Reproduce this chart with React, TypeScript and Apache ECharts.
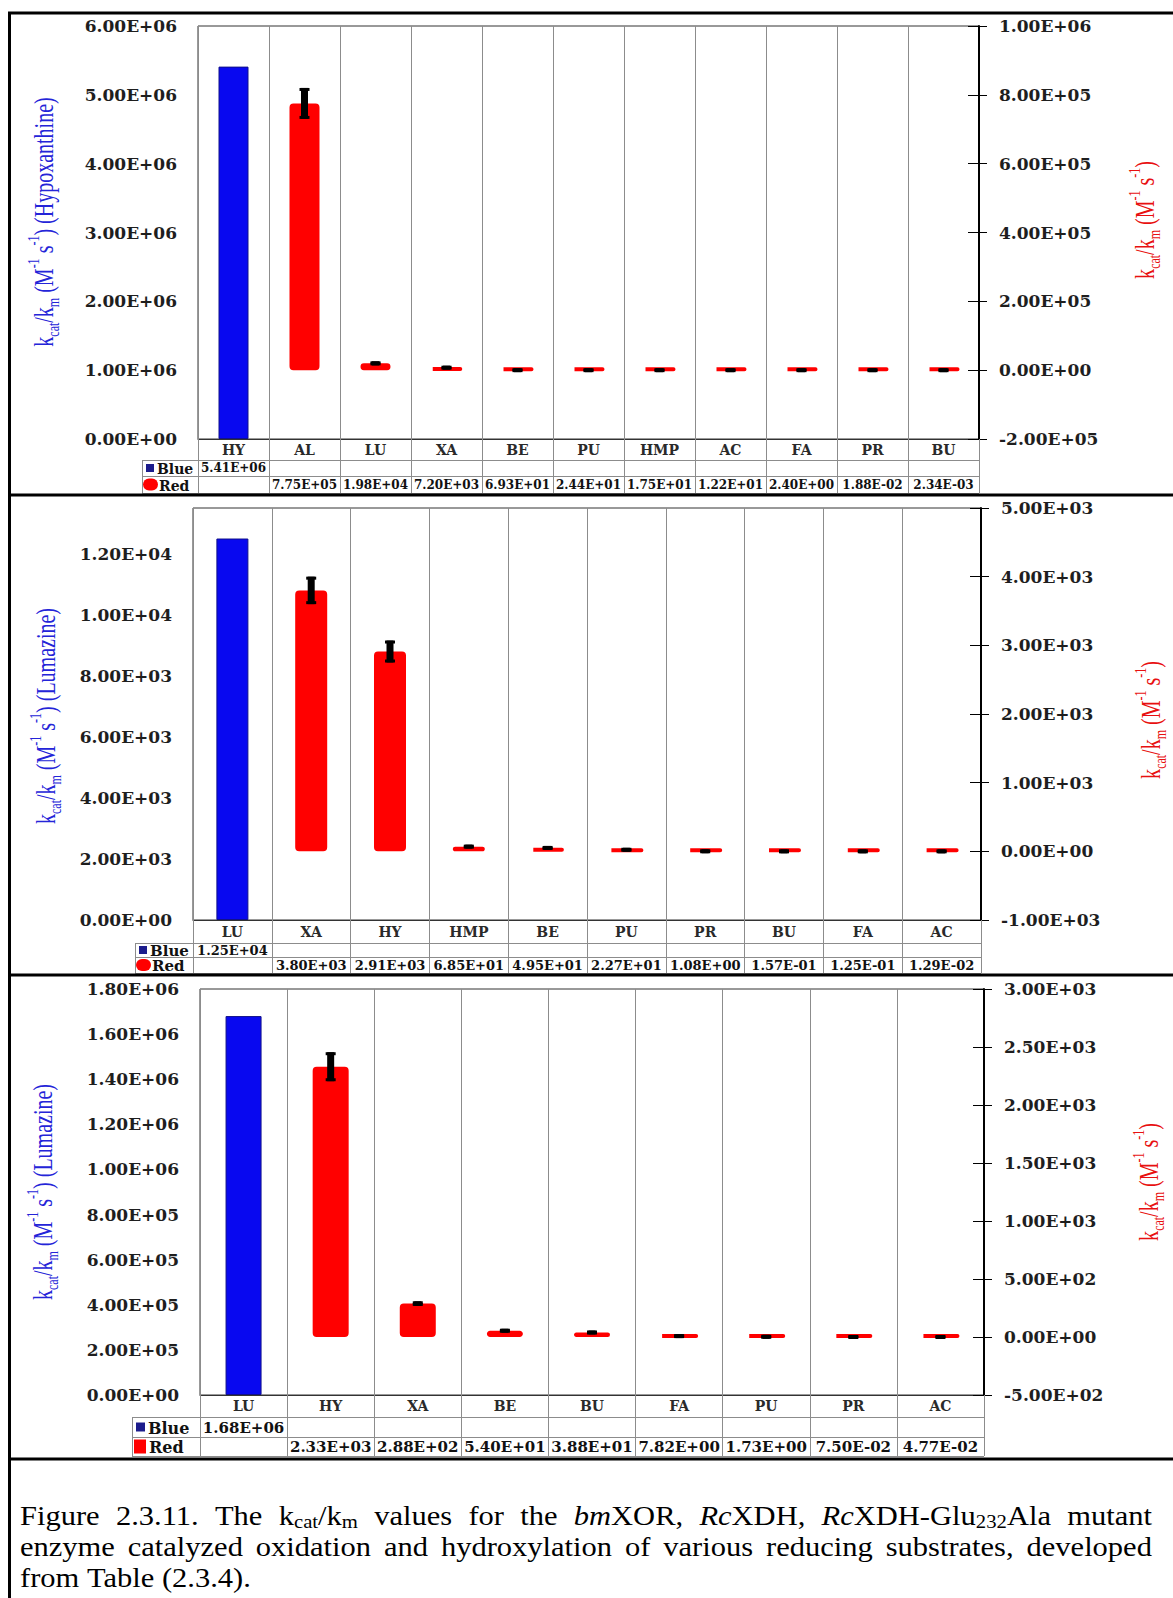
import React, { useEffect, useRef } from 'react';
import * as echarts from 'echarts';

// ---------- data: kcat/km (M-1 s-1) ----------
// bmXOR, hypoxanthine on the blue axis
const xorCategories = ['HY', 'AL', 'LU', 'XA', 'BE', 'PU', 'HMP', 'AC', 'FA', 'PR', 'BU'];
const xorBlue = [5.41e6, null, null, null, null, null, null, null, null, null, null];
const xorRed = [null, 7.75e5, 1.98e4, 7.2e3, 6.93e1, 2.44e1, 1.75e1, 1.22e1, 2.4, 1.88e-2, 2.34e-3];
const xorRedErr = [null, 4.5e4, 6e3, 1.5e3, 0, 0, 0, 0, 0, 0, 0];
const xorLeftTicks = [0, 6e6, 1e6];
const xorRightTicks = [-2e5, 1e6, 2e5];

// RcXDH, lumazine on the blue axis
const xdhCategories = ['LU', 'XA', 'HY', 'HMP', 'BE', 'PU', 'PR', 'BU', 'FA', 'AC'];
const xdhBlue = [1.25e4, null, null, null, null, null, null, null, null, null];
const xdhRed = [null, 3.8e3, 2.91e3, 6.85e1, 4.95e1, 2.27e1, 1.08, 1.57e-1, 1.25e-1, 1.29e-2];
const xdhRedErr = [null, 200, 160, 15, 12, 8, 0, 0, 0, 0];
const xdhLeftTicks = [0, 13500, 2000];
const xdhRightTicks = [-1e3, 5e3, 1e3];

// RcXDH-Glu232Ala, lumazine on the blue axis
const mutCategories = ['LU', 'HY', 'XA', 'BE', 'BU', 'FA', 'PU', 'PR', 'AC'];
const mutBlue = [1.68e6, null, null, null, null, null, null, null, null];
const mutRed = [null, 2.33e3, 2.88e2, 5.4e1, 3.88e1, 7.82, 1.73, 7.5e-2, 4.77e-2];
const mutRedErr = [null, 125, 20, 10, 8, 2, 0.5, 0, 0];
const mutLeftTicks = [0, 1.8e6, 2e5];
const mutRightTicks = [-500, 3000, 500];

const panels = [
  { categories: xorCategories, blue: xorBlue, red: xorRed, redErr: xorRedErr, leftTicks: xorLeftTicks, rightTicks: xorRightTicks, substrate: 'Hypoxanthine', hideLeftMax: false },
  { categories: xdhCategories, blue: xdhBlue, red: xdhRed, redErr: xdhRedErr, leftTicks: xdhLeftTicks, rightTicks: xdhRightTicks, substrate: 'Lumazine', hideLeftMax: true },
  { categories: mutCategories, blue: mutBlue, red: mutRed, redErr: mutRedErr, leftTicks: mutLeftTicks, rightTicks: mutRightTicks, substrate: 'Lumazine', hideLeftMax: false },
];

// Figure caption, word by word; each word is a list of [text, style] runs
// (n = roman, i = italic, s = subscript)
const captionLines: [string, string][][][] = [
  [
    [['Figure', 'n']], [['2.3.11.', 'n']], [['The', 'n']],
    [['k', 'n'], ['cat', 's'], ['/k', 'n'], ['m', 's']],
    [['values', 'n']], [['for', 'n']], [['the', 'n']],
    [['bm', 'i'], ['XOR,', 'n']], [['Rc', 'i'], ['XDH,', 'n']],
    [['Rc', 'i'], ['XDH-Glu', 'n'], ['232', 's'], ['Ala', 'n']], [['mutant', 'n']],
  ],
  'enzyme catalyzed oxidation and hydroxylation of various reducing substrates, developed'
    .split(' ').map((w) => [[w, 'n']] as [string, string][]),
  'from Table (2.3.4).'.split(' ').map((w) => [[w, 'n']] as [string, string][]),
];
const captionJustified = [true, true, false];

// ---------- layout (page pixels) ----------
const layouts = [
  { left: 198, top: 26, right: 979, bottom: 439, catBottom: 460, blueBottom: 476, redBottom: 493, legendLeft: 142, barWidth: 30, catFont: 14, valueFont: 12, legendFont: 14, leftTitle: [43, 222], rightTitle: [1144, 220], redKey: 'blob' },
  { left: 193, top: 508, right: 981, bottom: 920, catBottom: 943, blueBottom: 957, redBottom: 973, legendLeft: 135, barWidth: 32, catFont: 14, valueFont: 13, legendFont: 15, leftTitle: [45, 716], rightTitle: [1150, 720], redKey: 'blob' },
  { left: 200, top: 989, right: 984, bottom: 1395, catBottom: 1417, blueBottom: 1437, redBottom: 1456, legendLeft: 132, barWidth: 36, catFont: 14, valueFont: 15, legendFont: 16, leftTitle: [42, 1192], rightTitle: [1148, 1182], redKey: 'square' },
];
const dividers = [495, 975, 1459];
const caption = { left: 20, top: 1499, width: 1132, lineGap: 31, fontSize: 28, stretch: 1.09 };

const LABEL_FONT = '"DejaVu Serif", serif';
const TITLE_FONT = '"Liberation Serif", "Times New Roman", serif';
const LABEL_COLOR = '#1e1e1e';
const TABLE_LINE = '#8c8c8c';

function fmtE(v: number): string {
  if (v === 0) return '0.00E+00';
  const [m, e] = v.toExponential(2).split('e');
  return `${m}E${e[0]}${e.slice(1).padStart(2, '0')}`;
}

function titleRich(color: string, size: number) {
  const small = Math.round(size * 0.62);
  return {
    n: { fontSize: size, fontFamily: TITLE_FONT, fill: color, lineHeight: size + 6 },
    s: { fontSize: small, fontFamily: TITLE_FONT, fill: color, lineHeight: small, verticalAlign: 'bottom' },
    p: { fontSize: small, fontFamily: TITLE_FONT, fill: color, lineHeight: small, verticalAlign: 'top' },
  };
}

// justified caption lines as rich text, the gaps sized from measured word widths
function captionGraphics(): any[] {
  const fs = caption.fontSize;
  const subFs = Math.round(fs * 0.68);
  const fonts: Record<string, string> = {
    n: `${fs}px ${TITLE_FONT}`,
    i: `italic ${fs}px ${TITLE_FONT}`,
    s: `${subFs}px ${TITLE_FONT}`,
  };
  const ctx = document.createElement('canvas').getContext('2d') as CanvasRenderingContext2D;
  const measure = (t: string, st: string) => {
    ctx.font = fonts[st];
    return ctx.measureText(t).width;
  };
  const spaceW = measure(' ', 'n');
  const innerWidth = caption.width / caption.stretch;
  const out: any[] = [];
  captionLines.forEach((words, li) => {
    const wordsW = words.reduce((acc, w) => acc + w.reduce((a, [t, st]) => a + measure(t, st), 0), 0);
    const gaps = words.length - 1;
    const gapW = captionJustified[li] && gaps > 0 ? (innerWidth - wordsW) / gaps : spaceW;
    const text = words
      .map((w) => w.map(([t, st]) => `{${st}|${t}}`).join(''))
      .join('{g| }');
    out.push({
      type: 'text', x: caption.left, y: caption.top + li * caption.lineGap, scaleX: caption.stretch,
      style: {
        text, align: 'left', verticalAlign: 'top',
        rich: {
          n: { fontSize: fs, fontFamily: TITLE_FONT, fill: '#000', lineHeight: fs + 4 },
          i: { fontSize: fs, fontFamily: TITLE_FONT, fontStyle: 'italic', fill: '#000', lineHeight: fs + 4 },
          s: { fontSize: subFs, fontFamily: TITLE_FONT, fill: '#000', lineHeight: subFs, verticalAlign: 'bottom' },
          g: { fontSize: fs, fontFamily: TITLE_FONT, fill: '#000', lineHeight: fs + 4, width: gapW },
        },
      },
    });
  });
  return out;
}

function buildOption() {
  const grid: any[] = [];
  const xAxis: any[] = [];
  const yAxis: any[] = [];
  const series: any[] = [];
  const graphic: any[] = [];

  panels.forEach((p, k) => {
    const L = layouts[k];
    grid.push({
      left: L.left, top: L.top, width: L.right - L.left, height: L.bottom - L.top,
      show: true, borderColor: '#333', borderWidth: 1, backgroundColor: '#fff',
      containLabel: false, outerBoundsMode: 'none',
    });

    const xi = xAxis.length;
    // category row of the data table
    xAxis.push({
      gridIndex: k, type: 'category', data: p.categories, position: 'bottom',
      axisLine: { show: true, lineStyle: { color: '#333', width: 1 } },
      axisTick: { show: true, interval: 0, alignWithLabel: false, length: L.redBottom - L.bottom, lineStyle: { color: TABLE_LINE, width: 1 } },
      splitLine: { show: true, interval: 0, lineStyle: { color: TABLE_LINE, width: 1 } },
      axisLabel: { interval: 0, margin: Math.round((L.catBottom - L.bottom - L.catFont) / 2), color: '#2a2a2a', fontFamily: LABEL_FONT, fontWeight: 'bold', fontSize: L.catFont },
    });
    // value rows of the data table
    const rowAxis = (values: (number | null)[], rowTop: number, rowBottom: number) => ({
      gridIndex: k, type: 'category', data: p.categories, position: 'bottom', offset: rowTop - L.bottom,
      axisLine: { show: false }, axisTick: { show: false }, splitLine: { show: false },
      axisLabel: {
        interval: 0, margin: Math.max(1, Math.round((rowBottom - rowTop - L.valueFont) / 2)),
        color: '#111', fontFamily: LABEL_FONT, fontWeight: 'bold', fontSize: L.valueFont,
        formatter: (_v: string, i: number) => (values[i] == null ? '' : fmtE(values[i] as number)),
      },
    });
    xAxis.push(rowAxis(p.blue, L.catBottom, L.blueBottom));
    xAxis.push(rowAxis(p.red, L.blueBottom, L.redBottom));

    const yi = yAxis.length;
    const labelStyle = { color: LABEL_COLOR, fontFamily: LABEL_FONT, fontWeight: 'bold', fontSize: 17, formatter: (v: number) => fmtE(v) };
    yAxis.push({
      gridIndex: k, type: 'value', position: 'left',
      min: p.leftTicks[0], max: p.leftTicks[1], interval: p.leftTicks[2],
      axisLine: { show: false }, axisTick: { show: false }, splitLine: { show: false },
      axisLabel: { ...labelStyle, margin: 21, showMaxLabel: !p.hideLeftMax },
    });
    yAxis.push({
      gridIndex: k, type: 'value', position: 'right',
      min: p.rightTicks[0], max: p.rightTicks[1], interval: p.rightTicks[2],
      axisLine: { show: true, lineStyle: { color: '#000', width: 2 } },
      axisTick: { show: true, length: 8, lineStyle: { color: '#000', width: 1 } },
      splitLine: { show: false },
      axisLabel: { ...labelStyle, margin: 20 },
    });
    // inner half of the crossing ticks on the right axis
    yAxis.push({
      gridIndex: k, type: 'value', position: 'right',
      min: p.rightTicks[0], max: p.rightTicks[1], interval: p.rightTicks[2],
      axisLine: { show: false }, splitLine: { show: false }, axisLabel: { show: false },
      axisTick: { show: true, inside: true, length: 11, lineStyle: { color: '#000', width: 1 } },
    });

    series.push({
      name: 'Blue', type: 'bar', xAxisIndex: xi, yAxisIndex: yi, data: p.blue,
      barWidth: L.barWidth, barGap: '-100%',
      itemStyle: { color: '#0808f0', borderColor: '#10108a', borderWidth: 1 },
    });
    series.push({
      name: 'Red', type: 'bar', xAxisIndex: xi, yAxisIndex: yi + 1, data: p.red,
      barWidth: L.barWidth, barGap: '-100%', barMinHeight: 2,
      itemStyle: { color: '#ff0000', borderColor: '#ff0000', borderWidth: 4, borderJoin: 'round', borderRadius: 2 },
    });
    const errData = p.red
      .map((v, i) => (v == null ? null : [i, v, p.redErr[i] ?? 0]))
      .filter((d) => d != null);
    series.push({
      name: 'Red error', type: 'custom', xAxisIndex: xi, yAxisIndex: yi + 1, data: errData,
      encode: { x: 0, y: 1 }, z: 5,
      renderItem: (_params: any, api: any) => {
        const i = api.value(0);
        const v = api.value(1);
        const e = api.value(2);
        const top = api.coord([i, v + e]);
        const bot = api.coord([i, v - e]);
        const x = top[0];
        let y1 = top[1];
        let y2 = bot[1];
        if (y2 - y1 < 4) {
          const c = (y1 + y2) / 2;
          y1 = c - 2;
          y2 = c + 2;
        }
        return {
          type: 'group',
          children: [
            { type: 'rect', shape: { x: x - 3.5, y: y1, width: 7, height: y2 - y1 }, style: { fill: '#000' } },
            { type: 'line', shape: { x1: x - 5, y1: y1 + 1.5, x2: x + 5, y2: y1 + 1.5 }, style: { stroke: '#000', lineWidth: 3 } },
            { type: 'line', shape: { x1: x - 5, y1: y2 - 1.5, x2: x + 5, y2: y2 - 1.5 }, style: { stroke: '#000', lineWidth: 3 } },
          ],
        };
      },
    });

    // data table borders
    [L.catBottom, L.blueBottom, L.redBottom].forEach((y) => {
      graphic.push({ type: 'line', shape: { x1: L.legendLeft, y1: y + 0.5, x2: L.right, y2: y + 0.5 }, style: { stroke: TABLE_LINE, lineWidth: 1 }, silent: true });
    });
    graphic.push({ type: 'line', shape: { x1: L.legendLeft + 0.5, y1: L.catBottom, x2: L.legendLeft + 0.5, y2: L.redBottom }, style: { stroke: TABLE_LINE, lineWidth: 1 }, silent: true });

    // legend keys of the data table
    const blueMid = (L.catBottom + L.blueBottom) / 2;
    const redMid = (L.blueBottom + L.redBottom) / 2;
    const ks = k === 2 ? 9 : 8;
    graphic.push({ type: 'rect', shape: { x: L.legendLeft + 4, y: blueMid - ks / 2, width: ks, height: ks }, style: { fill: '#1c1c8c' } });
    if (L.redKey === 'blob') {
      graphic.push({ type: 'rect', shape: { x: L.legendLeft + 1, y: redMid - 6, width: 15, height: 12, r: 6 }, style: { fill: '#ff0000' } });
    } else {
      graphic.push({ type: 'rect', shape: { x: L.legendLeft + 2, y: redMid - 7, width: 12, height: 14 }, style: { fill: '#ff0000' } });
    }
    graphic.push({ type: 'text', x: L.legendLeft + 5 + ks + 2, y: blueMid + 1, style: { text: 'Blue', font: `bold ${L.legendFont}px ${LABEL_FONT}`, fill: '#111', verticalAlign: 'middle' } });
    graphic.push({ type: 'text', x: L.legendLeft + 17, y: redMid + 1, style: { text: 'Red', font: `bold ${L.legendFont}px ${LABEL_FONT}`, fill: '#111', verticalAlign: 'middle' } });

    // axis titles (widened across the reading direction)
    graphic.push({
      type: 'text', x: L.leftTitle[0], y: L.leftTitle[1], rotation: Math.PI / 2, scaleY: 1.4,
      style: {
        text: `{n|k}{s|cat}{n|/k}{s|m}{n| (M}{p|-1}{n| s}{p|-1}{n|) (${p.substrate})}`,
        rich: titleRich('#2424d8', 20), align: 'center', verticalAlign: 'middle',
      },
    });
    graphic.push({
      type: 'text', x: L.rightTitle[0], y: L.rightTitle[1], rotation: Math.PI / 2, scaleY: 1.4,
      style: {
        text: '{n|k}{s|cat}{n|/k}{s|m}{n| (M}{p|-1}{n| s}{p|-1}{n|)}',
        rich: titleRich('#e81010', 20), align: 'center', verticalAlign: 'middle',
      },
    });
  });

  // outer frame and panel dividers
  graphic.push({ type: 'line', shape: { x1: 9.5, y1: 12, x2: 9.5, y2: 1600 }, style: { stroke: '#000', lineWidth: 3 } });
  graphic.push({ type: 'line', shape: { x1: 8, y1: 13, x2: 1175, y2: 13 }, style: { stroke: '#000', lineWidth: 3 } });
  dividers.forEach((y) => {
    graphic.push({ type: 'line', shape: { x1: 8, y1: y, x2: 1175, y2: y }, style: { stroke: '#000', lineWidth: 3 } });
  });

  graphic.push(...captionGraphics());

  return {
    animation: false,
    backgroundColor: '#fff',
    textStyle: { fontFamily: LABEL_FONT },
    grid, xAxis, yAxis, series, graphic,
  };
}

export default function App() {
  const ref = useRef<HTMLDivElement>(null);
  useEffect(() => {
    if (!ref.current) return;
    const chart = echarts.init(ref.current, null, { renderer: 'svg' });
    chart.setOption(buildOption() as any);
    return () => chart.dispose();
  }, []);

  return (
    <div style={{ position: 'absolute', left: 0, top: 0, width: 1173, height: 1598, background: '#fff', overflow: 'hidden' }}>
      <div ref={ref} style={{ position: 'absolute', left: 0, top: 0, width: 1173, height: 1598 }} />
    </div>
  );
}
